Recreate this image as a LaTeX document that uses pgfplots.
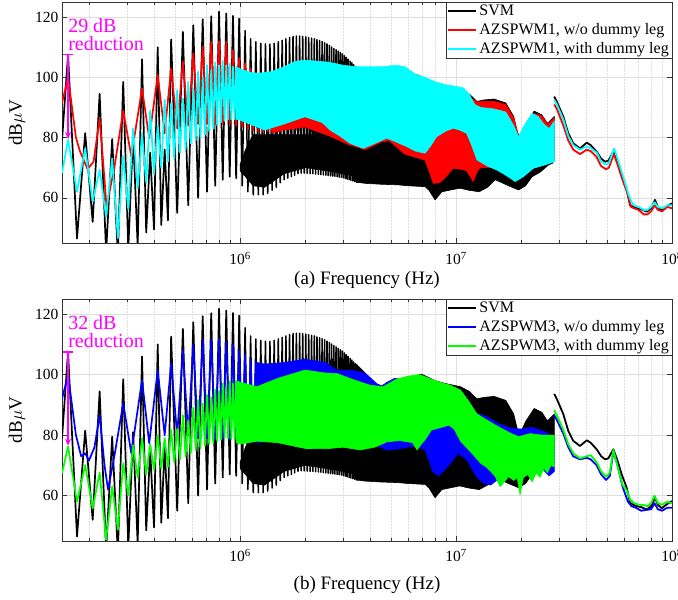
\documentclass[border=0pt]{standalone}
\usepackage{pgfplots}
\pgfplotsset{compat=1.18}
\usepackage{pgfplotstable}
\usepackage{fontspec}
\setmainfont{Liberation Serif}
\usetikzlibrary{arrows.meta}

\pgfplotstableread{
f v
150e3 79
160e3 107.5
176e3 46.5
192e3 81.5
208e3 52
224e3 94.5
240e3 42
256e3 79.5
272e3 41
288e3 98.5
304e3 43
320e3 81
336e3 44
352e3 106
368e3 48.5
384e3 75
400e3 49.5
416e3 110
432e3 51
448e3 76
464e3 52.5
480e3 112.6
512e3 55
544e3 115.1
576e3 57.5
608e3 117.3
640e3 60
672e3 119.3
704e3 62
736e3 120.3
768e3 64
800e3 121.8
832e3 66
864e3 121.2
896e3 67
928e3 120.4
960e3 66.5
992e3 119.6
}\svmA
\pgfplotstableread{
f v
992e3 119.6
1024e3 64
1056e3 115.5
1088e3 62
1120e3 112.8
1152e3 61
1184e3 111.8
1216e3 61
1248e3 111.3
1280e3 61
1312e3 111.1
1344e3 61.5
1376e3 111
1408e3 62.5
1440e3 111.3
1472e3 63.5
1504e3 111.8
1536e3 65
1568e3 112.3
1600e3 66
1632e3 112.8
1664e3 66.5
1696e3 113.2
1728e3 67
1760e3 113.6
1792e3 67.5
1824e3 113.7
1856e3 68
1888e3 113.7
1920e3 68.2
1952e3 113.6
1984e3 68.2
2016e3 113.4
2048e3 68.1
2080e3 113.2
2112e3 68
2144e3 113
2176e3 68
2208e3 112.8
2240e3 67.9
2272e3 112.5
2304e3 67.8
2336e3 112.2
2368e3 67.7
2400e3 111.9
2432e3 67.6
2464e3 111.5
2496e3 67.5
2528e3 111.1
2560e3 67.4
2592e3 110.6
2624e3 67.3
2656e3 110.1
2688e3 67.2
2720e3 109.6
2752e3 67.1
2784e3 109.2
2816e3 67
2848e3 108.7
2880e3 66.9
2912e3 108.3
2944e3 66.8
2976e3 107.8
3008e3 66.6
3040e3 107.2
3072e3 66.4
3104e3 106.6
3136e3 66.2
3168e3 106
3200e3 66
3232e3 105.4
3264e3 65.8
3296e3 104.8
3328e3 65.6
3360e3 104.2
3392e3 65.4
3424e3 103.6
3456e3 65.2
3488e3 103
3520e3 65
}\svmB
\pgfplotstableread{
f v
1.0e6 71
1.06e6 76
1.15e6 81
3.5e6 81
3.5e6 67
3.0e6 68
2.5e6 69
2.0e6 70
1.6e6 68
1.3e6 63.5
1.15e6 64
1.06e6 67
1.0e6 69
}\svmCore
\pgfplotstableread{
f v
3.45e6 103.5
3.8e6 100.5
4.3e6 96
4.6e6 96
5.5e6 98
6.5e6 99.6
6.9e6 100.2
7.5e6 99
8e6 98
9e6 97
10.5e6 96
11.5e6 94.5
12.5e6 92
13.5e6 92.5
15e6 92.8
17e6 91.5
18.5e6 87
19.3e6 81.5
19.8e6 80.5
21e6 84.5
23e6 88.8
25e6 87.5
26.5e6 84.7
28.5e6 87
28.5e6 72.5
28e6 71.5
26.8e6 70.9
24.5e6 68.5
22.5e6 67
21e6 64
19.5e6 62.6
17.5e6 64
15.2e6 66
14e6 63.5
12.8e6 62
11.5e6 62.5
10.4e6 63.2
9.3e6 62.5
8.6e6 62
8.0e6 59.3
7.5e6 62.5
7.2e6 63.7
6e6 64
5.4e6 64.3
4.5e6 64.5
3.8e6 64.8
3.45e6 65.2
}\svmBand
\pgfplotstableread{
f v
28.5e6 93.6
29.3e6 91.9
31.4e6 86.9
33.1e6 81.4
34.9e6 78.1
37.5e6 76.4
40.3e6 78.3
42e6 77.5
44.8e6 75.3
47e6 73
49.0e6 72
50.7e6 72.3
53.5e6 75.3
55.5e6 72.3
58.5e6 67
61.7e6 62.6
63.9e6 57.6
66e6 57
68.7e6 56.5
72e6 56.2
76.4e6 55.4
80e6 56.5
83.4e6 59.3
86e6 57
89.6e6 55.8
94e6 57
100e6 58.2
}\svmHi

\pgfplotstableread{
f v
150e3 91.5
160e3 100
174e3 80
182e3 75.3
197e3 69.5
210e3 72
224e3 86.4
236e3 66
241e3 57
262e3 70
288e3 89
314e3 73.7
352e3 96.3
380e3 79.8
416e3 100.8
448e3 81.4
480e3 103
512e3 83
544e3 105.2
576e3 84
608e3 108
640e3 84.5
672e3 110.2
704e3 84.5
736e3 111.8
768e3 84.5
800e3 112
832e3 84.5
864e3 111.8
896e3 84.5
928e3 109
960e3 84
992e3 106.3
1024e3 83.5
1056e3 104.6
1088e3 83
1120e3 103
1152e3 82.5
1184e3 101.5
1216e3 82
1248e3 101
1280e3 82
1312e3 100.6
1344e3 82
1376e3 100.4
1408e3 82
}\redZ
\pgfplotstableread{
f v
1.4e6 100.4
1.6e6 102
2e6 104
2.5e6 104
3e6 102.5
4e6 102.5
5.5e6 103
6.5e6 101
6.8e6 100.6
7.2e6 99.5
8e6 98
9e6 97
10.5e6 96
11.5e6 93.5
12.5e6 91.8
13.5e6 92
15e6 92
17e6 91
18.5e6 86.5
19.5e6 80.5
20e6 80
21e6 84
23e6 88
25e6 87.2
26.5e6 84.3
28.5e6 86.5
28.5e6 72.5
26e6 71
23e6 70
20e6 67
19e6 66
17e6 68
15e6 70
13e6 70
12.6e6 69
12.0e6 65.4
11.2e6 69
10.5e6 69.5
9.7e6 69.8
9e6 67
8.4e6 65
7.85e6 64.8
7.4e6 70
7.2e6 72.5
6.8e6 73
5.8e6 74.5
4.9e6 79
4.5e6 78.5
3.8e6 76
3.2e6 77.6
2.6e6 80.5
2e6 83.5
1.6e6 82.5
1.4e6 81.5
}\redBand
\pgfplotstableread{
f v
28.5e6 91
29.3e6 89.5
31.4e6 84
33.1e6 79
34.9e6 76
37.5e6 74.5
40.3e6 76
42e6 75.5
44.8e6 73.5
47e6 70.5
49.5e6 69.5
51e6 70
53.8e6 74.5
56e6 71
59e6 66
62.5e6 61
64.5e6 57
67e6 56.5
70e6 56
74e6 54.5
77e6 54.5
80e6 55.5
83e6 57.5
86e6 56
90e6 55.5
95e6 57
100e6 56.5
}\redHi

\pgfplotstableread{
f v
150e3 68.2
160e3 79.2
176e3 62
192e3 76.4
208e3 58.7
224e3 69.3
240e3 53.8
256e3 73.1
272e3 46.6
288e3 74
304e3 56
320e3 83
336e3 63
352e3 81.4
368e3 65
384e3 89
400e3 68
416e3 84
432e3 70
448e3 92.5
464e3 72
480e3 91.5
496e3 73
512e3 95.8
528e3 75
544e3 93
560e3 76
576e3 98.5
592e3 78
608e3 96
624e3 79
640e3 101.9
656e3 80
672e3 100
688e3 81
704e3 104
720e3 82
736e3 102.5
752e3 83
768e3 105
784e3 84
800e3 104
816e3 85
832e3 105.5
848e3 85.5
864e3 104
880e3 86
896e3 104.5
912e3 86
928e3 103.5
944e3 86
960e3 103.5
976e3 86
}\cyanZ
\pgfplotstableread{
f v
0.96e6 103.5
1.0e6 102.8
1.1e6 101.8
1.2e6 101.3
1.4e6 101.9
1.6e6 103.5
1.8e6 105.3
2.0e6 105.7
2.6e6 105
3.0e6 104
3.5e6 103.5
4.5e6 103.5
5.3e6 104
5.8e6 103.5
6.5e6 101
7.2e6 100
8e6 98.5
9e6 97.5
10e6 97
10.8e6 96.5
11.5e6 94.5
12.2e6 91
13e6 90
15e6 89.5
17e6 88.5
18.5e6 84
19.5e6 80.3
20.5e6 83.5
22.5e6 88
24e6 87
25.5e6 84.5
27e6 83
28.5e6 85.5
28.5e6 72
26e6 71
22.8e6 69.8
20.5e6 67
18.8e6 65.4
17e6 67.5
15.4e6 69.3
14e6 70.5
12.5e6 72.6
11.8e6 77.5
11.2e6 81.4
10.4e6 82.5
9.72e6 83.1
9e6 82.2
8.14e6 80.3
7.6e6 77
7.19e6 74.8
6.5e6 75.5
5.91e6 77
5.3e6 78.5
4.78e6 79.8
4.2e6 78
3.72e6 76.4
3.23e6 78.1
2.9e6 80.5
2.61e6 82.5
2.4e6 85
2.0e6 86.9
1.6e6 84.5
1.3e6 82.5
1.2e6 83.5
1.0e6 85.8
0.96e6 86
}\cyanBand
\pgfplotstableread{
f v
28.5e6 92.5
29.3e6 91
31.4e6 86
33.1e6 80.5
34.9e6 77.5
37.5e6 76
40.3e6 77
42e6 76.5
44.8e6 75
47e6 72
49.5e6 71
51e6 71.5
54e6 76.4
56.5e6 72
60e6 66
63e6 61
65e6 58.5
67e6 57.5
70e6 57
74e6 56
77e6 56
80e6 57
83e6 58.5
86e6 57
90e6 56.5
95e6 57.5
100e6 57.5
}\cyanHi

\pgfplotstableread{
f v
150e3 92
160e3 99.9
174e3 80
184e3 73
192e3 74
200e3 71.6
212e3 76
224e3 86.6
236e3 70
245e3 62
262e3 73
288e3 90.5
314e3 74
352e3 98.2
380e3 77.3
416e3 101.5
448e3 80
480e3 103.6
512e3 80
544e3 108.1
576e3 80
608e3 110
640e3 79
672e3 111.6
704e3 79
736e3 111.5
768e3 78.5
800e3 111.9
832e3 78.5
864e3 111
896e3 78.5
928e3 110
960e3 78.5
992e3 108.1
1024e3 78.5
1056e3 106.5
1088e3 78
1120e3 105
1152e3 77.5
1184e3 104
1216e3 77.5
1248e3 103.5
}\blueZ
\pgfplotstableread{
f v
1.2e6 104
1.3e6 103.5
1.6e6 104
2.0e6 105.1
2.5e6 104
2.8e6 101.5
3.3e6 101.5
3.8e6 100.5
4.3e6 97
4.53e6 96.3
4.8e6 97.5
5.2e6 98.8
6e6 98
8e6 97
10e6 93
11.5e6 89
12.5e6 87.2
14e6 86
15.5e6 84
18e6 82.3
20e6 82
22.5e6 82.6
25e6 81.5
28.5e6 79.5
28.5e6 68
27e6 66.5
25e6 69
22e6 71
18e6 70
16e6 66
14.5e6 63.5
13.5e6 64
12.5e6 66
11.8e6 69
11.2e6 72
10.2e6 74
9.5e6 71
9e6 69
8.3e6 66.5
7.8e6 68
7.2e6 75
6.5e6 76.5
5.5e6 75.5
4.8e6 75
4.3e6 76.5
3.5e6 78
2.5e6 79
2e6 79.5
1.5e6 78.5
1.2e6 77.5
}\blueBand
\pgfplotstableread{
f v
28.5e6 86.6
29.3e6 85
31.4e6 80.5
33.1e6 76
34.9e6 73
37.5e6 72
40.3e6 72.5
42e6 72
44.8e6 70
47e6 67
49.5e6 65.2
51.5e6 66.5
53.5e6 74.5
56e6 70
59e6 63
62.5e6 58
65e6 56.5
68e6 56
72e6 55
76e6 55.3
80e6 55.5
83e6 57.5
86e6 55.5
90e6 55
95e6 56
100e6 56
}\blueHi

\pgfplotstableread{
f v
150e3 67.4
160e3 76.2
176e3 58
192e3 70.1
208e3 55.8
224e3 67.6
240e3 45.4
256e3 63
272e3 48.7
288e3 70.7
304e3 60
320e3 76.7
336e3 66
352e3 79
368e3 67
384e3 77
400e3 68.5
416e3 80
432e3 69
448e3 79
464e3 69.5
480e3 81.7
496e3 71
512e3 82
528e3 72
544e3 86.6
560e3 73
576e3 85
592e3 74
608e3 89
624e3 75
640e3 91.6
656e3 75.6
672e3 90.5
688e3 76.5
704e3 93.3
720e3 77
736e3 92.5
752e3 77.3
768e3 95
784e3 78
800e3 94.5
816e3 78.5
832e3 97.1
848e3 79
864e3 96
880e3 79
896e3 97.8
912e3 78.8
928e3 97
944e3 78.5
960e3 98
976e3 78
}\greenZ
\pgfplotstableread{
f v
0.96e6 98
1.0e6 97.5
1.2e6 96
1.5e6 98.8
2.0e6 101.5
2.5e6 100.5
2.8e6 100.4
3.3e6 98.5
4e6 96.5
4.6e6 96
5.3e6 98.5
6e6 99.5
6.8e6 100
8e6 98
9.4e6 96.5
10.5e6 94.9
11.5e6 91
12.5e6 87
13.5e6 85.5
15.5e6 83
18e6 80.5
19.5e6 79.5
22e6 80.5
25e6 80
28.5e6 80
28.5e6 69.5
27.5e6 70
26.5e6 67.5
25.5e6 69
24.5e6 66
23.5e6 67.5
22.5e6 64.5
21.5e6 67
20.5e6 66
19.8e6 60.2
19.2e6 66
18.5e6 65
17.5e6 66.3
16.5e6 64
16e6 63
15.2e6 66.3
14.5e6 68
13.8e6 69.5
13e6 70.7
12.2e6 73
11.5e6 75
10.5e6 78
9.8e6 82
9.3e6 83.3
8.5e6 82.5
7.7e6 81.7
7.2e6 78.5
6.9e6 77
6.6e6 75.1
6.3e6 77.5
5.5e6 78.2
4.8e6 77.8
4.2e6 76
3.6e6 75.1
3e6 76
2.5e6 75.5
2e6 75.6
1.5e6 77.5
1.2e6 78
1.0e6 77
0.96e6 77.5
}\greenBand
\pgfplotstableread{
f v
28.5e6 88.3
29.3e6 86.5
31.4e6 81.7
33.1e6 77
34.9e6 74
37.5e6 72.3
40.3e6 73
42e6 73.4
44.8e6 71
47e6 68
49.5e6 66.3
51.5e6 67.5
53.5e6 75.1
56e6 69.6
59e6 63.5
61.5e6 61.9
64e6 58.6
67e6 57.5
70e6 57
74e6 56.9
77e6 56.5
80e6 57.5
83e6 60
86e6 57.5
90e6 57
95e6 58
100e6 57.5
}\greenHi

\definecolor{mag}{RGB}{255,0,255}
\definecolor{cR}{RGB}{255,0,0}
\definecolor{cC}{RGB}{0,255,255}
\definecolor{cB}{RGB}{0,0,255}
\definecolor{cG}{RGB}{0,255,0}

\begin{document}
\begin{tikzpicture}[
  zig/.style={draw=#1, line width=1.7pt, line join=round},
  zigt/.style={draw=#1, line width=1.5pt, line join=round},
  band/.style={draw=#1, fill=#1, line width=0.6pt, line join=round},
  hi/.style={draw=#1, line width=1.8pt, line join=round}]
\path[use as bounding box] (0,0) rectangle (678pt,600pt);

\begin{semilogxaxis}[scale only axis, width=610pt, height=241pt,
    at={(62pt,357pt)}, anchor=south west,
    xmin=1.5e5, xmax=1e8, ymin=45, ymax=125,
    xtick={1e6,1e7,1e8},
    xticklabels={10\textsuperscript{6},10\textsuperscript{7},10\textsuperscript{8}},
    minor xtick={2e5,3e5,4e5,5e5,6e5,7e5,8e5,9e5,2e6,3e6,4e6,5e6,6e6,7e6,8e6,9e6,2e7,3e7,4e7,5e7,6e7,7e7,8e7,9e7},
    ytick={60,80,100,120}, yticklabels={60,80,100,120},
    minor y tick num=0,
    grid=both,
    major grid style={black!13, line width=0.5pt},
    minor grid style={black!13, line width=0.5pt, densely dotted},
    tick align=inside,
    major tick length=5pt, minor tick length=3pt,
    axis line style={black!80, line width=0.6pt},
    tick style={black!80, line width=0.5pt},
    tick label style={font=\fontsize{15.5}{16}\selectfont},
    xticklabel style={yshift=-6pt},
    xlabel={(a) Frequency (Hz)},
    ylabel={dB$\mu$V},
    xlabel style={font=\fontsize{19}{20}\selectfont, at={(rel axis cs:0.5,0)}, yshift=-37pt, anchor=center},
    ylabel style={font=\fontsize{19}{20}\selectfont, at={(rel axis cs:-0.0738,0.5)}, anchor=center},
    legend cell align=left,
    legend style={at={(1,1)}, anchor=north east, draw=black!80, line width=0.5pt, fill=white,
      font=\fontsize{16}{18}\selectfont, inner xsep=1pt, inner ysep=1pt, row sep=2.3pt},
    legend image code/.code={\draw[#1, line width=2pt] (0pt,0pt) -- (28pt,0pt);}]
\addlegendimage{black}\addlegendentry{SVM}
\addlegendimage{cR}\addlegendentry{AZSPWM1, w/o dummy leg}
\addlegendimage{cC}\addlegendentry{AZSPWM1, with dummy leg}
\addplot[zig=black, forget plot] table[x=f,y=v] {\svmA};
\addplot[zigt=black, forget plot] table[x=f,y=v] {\svmB};
\addplot[band=black, forget plot] table[x=f,y=v] {\svmCore};
\addplot[band=black, forget plot] table[x=f,y=v] {\svmBand};
\addplot[hi=black, forget plot] table[x=f,y=v] {\svmHi};
\addplot[zig=cR, forget plot] table[x=f,y=v] {\redZ};
\addplot[band=cR, forget plot] table[x=f,y=v] {\redBand};
\addplot[hi=cR, forget plot] table[x=f,y=v] {\redHi};
\addplot[zig=cC, forget plot] table[x=f,y=v] {\cyanZ};
\addplot[band=cC, forget plot] table[x=f,y=v] {\cyanBand};
\addplot[hi=cC, forget plot] table[x=f,y=v] {\cyanHi};
\draw[mag, line width=1.5pt] (axis cs:1.52e5,107.5) -- (axis cs:1.68e5,107.5);
\draw[mag, line width=1.5pt, -{Stealth[length=7pt,width=6pt]}] (axis cs:1.6e5,107.5) -- (axis cs:1.6e5,79.5);
\node[anchor=base west, text=mag, font=\fontsize{20}{20}\selectfont, inner sep=0pt]
  at (axis cs:1.6e5,115) {29 dB};
\node[anchor=base west, text=mag, font=\fontsize{20}{20}\selectfont, inner sep=0pt]
  at (axis cs:1.6e5,108.9) {reduction};
\end{semilogxaxis}

\begin{semilogxaxis}[scale only axis, width=610pt, height=242pt,
    at={(62pt,59pt)}, anchor=south west,
    xmin=1.5e5, xmax=1e8, ymin=45, ymax=125,
    xtick={1e6,1e7,1e8},
    xticklabels={10\textsuperscript{6},10\textsuperscript{7},10\textsuperscript{8}},
    minor xtick={2e5,3e5,4e5,5e5,6e5,7e5,8e5,9e5,2e6,3e6,4e6,5e6,6e6,7e6,8e6,9e6,2e7,3e7,4e7,5e7,6e7,7e7,8e7,9e7},
    ytick={60,80,100,120}, yticklabels={60,80,100,120},
    minor y tick num=0,
    grid=both,
    major grid style={black!13, line width=0.5pt},
    minor grid style={black!13, line width=0.5pt, densely dotted},
    tick align=inside,
    major tick length=5pt, minor tick length=3pt,
    axis line style={black!80, line width=0.6pt},
    tick style={black!80, line width=0.5pt},
    tick label style={font=\fontsize{15.5}{16}\selectfont},
    xticklabel style={yshift=-5pt},
    xlabel={(b) Frequency (Hz)},
    ylabel={dB$\mu$V},
    xlabel style={font=\fontsize{19}{20}\selectfont, at={(rel axis cs:0.5,0)}, yshift=-44pt, anchor=center},
    ylabel style={font=\fontsize{19}{20}\selectfont, at={(rel axis cs:-0.0738,0.5)}, anchor=center},
    legend cell align=left,
    legend style={at={(1,1)}, anchor=north east, draw=black!80, line width=0.5pt, fill=white,
      font=\fontsize{16}{18}\selectfont, inner xsep=1pt, inner ysep=1pt, row sep=2.3pt},
    legend image code/.code={\draw[#1, line width=2pt] (0pt,0pt) -- (28pt,0pt);}]
\addlegendimage{black}\addlegendentry{SVM}
\addlegendimage{cB}\addlegendentry{AZSPWM3, w/o dummy leg}
\addlegendimage{cG}\addlegendentry{AZSPWM3, with dummy leg}
\addplot[zig=black, forget plot] table[x=f,y=v] {\svmA};
\addplot[zigt=black, forget plot] table[x=f,y=v] {\svmB};
\addplot[band=black, forget plot] table[x=f,y=v] {\svmCore};
\addplot[band=black, forget plot] table[x=f,y=v] {\svmBand};
\addplot[hi=black, forget plot] table[x=f,y=v] {\svmHi};
\addplot[zig=cB, forget plot] table[x=f,y=v] {\blueZ};
\addplot[band=cB, forget plot] table[x=f,y=v] {\blueBand};
\addplot[hi=cB, forget plot] table[x=f,y=v] {\blueHi};
\addplot[zig=cG, forget plot] table[x=f,y=v] {\greenZ};
\addplot[band=cG, forget plot] table[x=f,y=v] {\greenBand};
\addplot[hi=cG, forget plot] table[x=f,y=v] {\greenHi};
\draw[mag, line width=1.5pt] (axis cs:1.52e5,107.5) -- (axis cs:1.68e5,107.5);
\draw[mag, line width=1.5pt, -{Stealth[length=7pt,width=6pt]}] (axis cs:1.6e5,107.5) -- (axis cs:1.6e5,76.5);
\node[anchor=base west, text=mag, font=\fontsize{20}{20}\selectfont, inner sep=0pt]
  at (axis cs:1.6e5,115) {32 dB};
\node[anchor=base west, text=mag, font=\fontsize{20}{20}\selectfont, inner sep=0pt]
  at (axis cs:1.6e5,108.9) {reduction};
\end{semilogxaxis}
\end{tikzpicture}
\end{document}
